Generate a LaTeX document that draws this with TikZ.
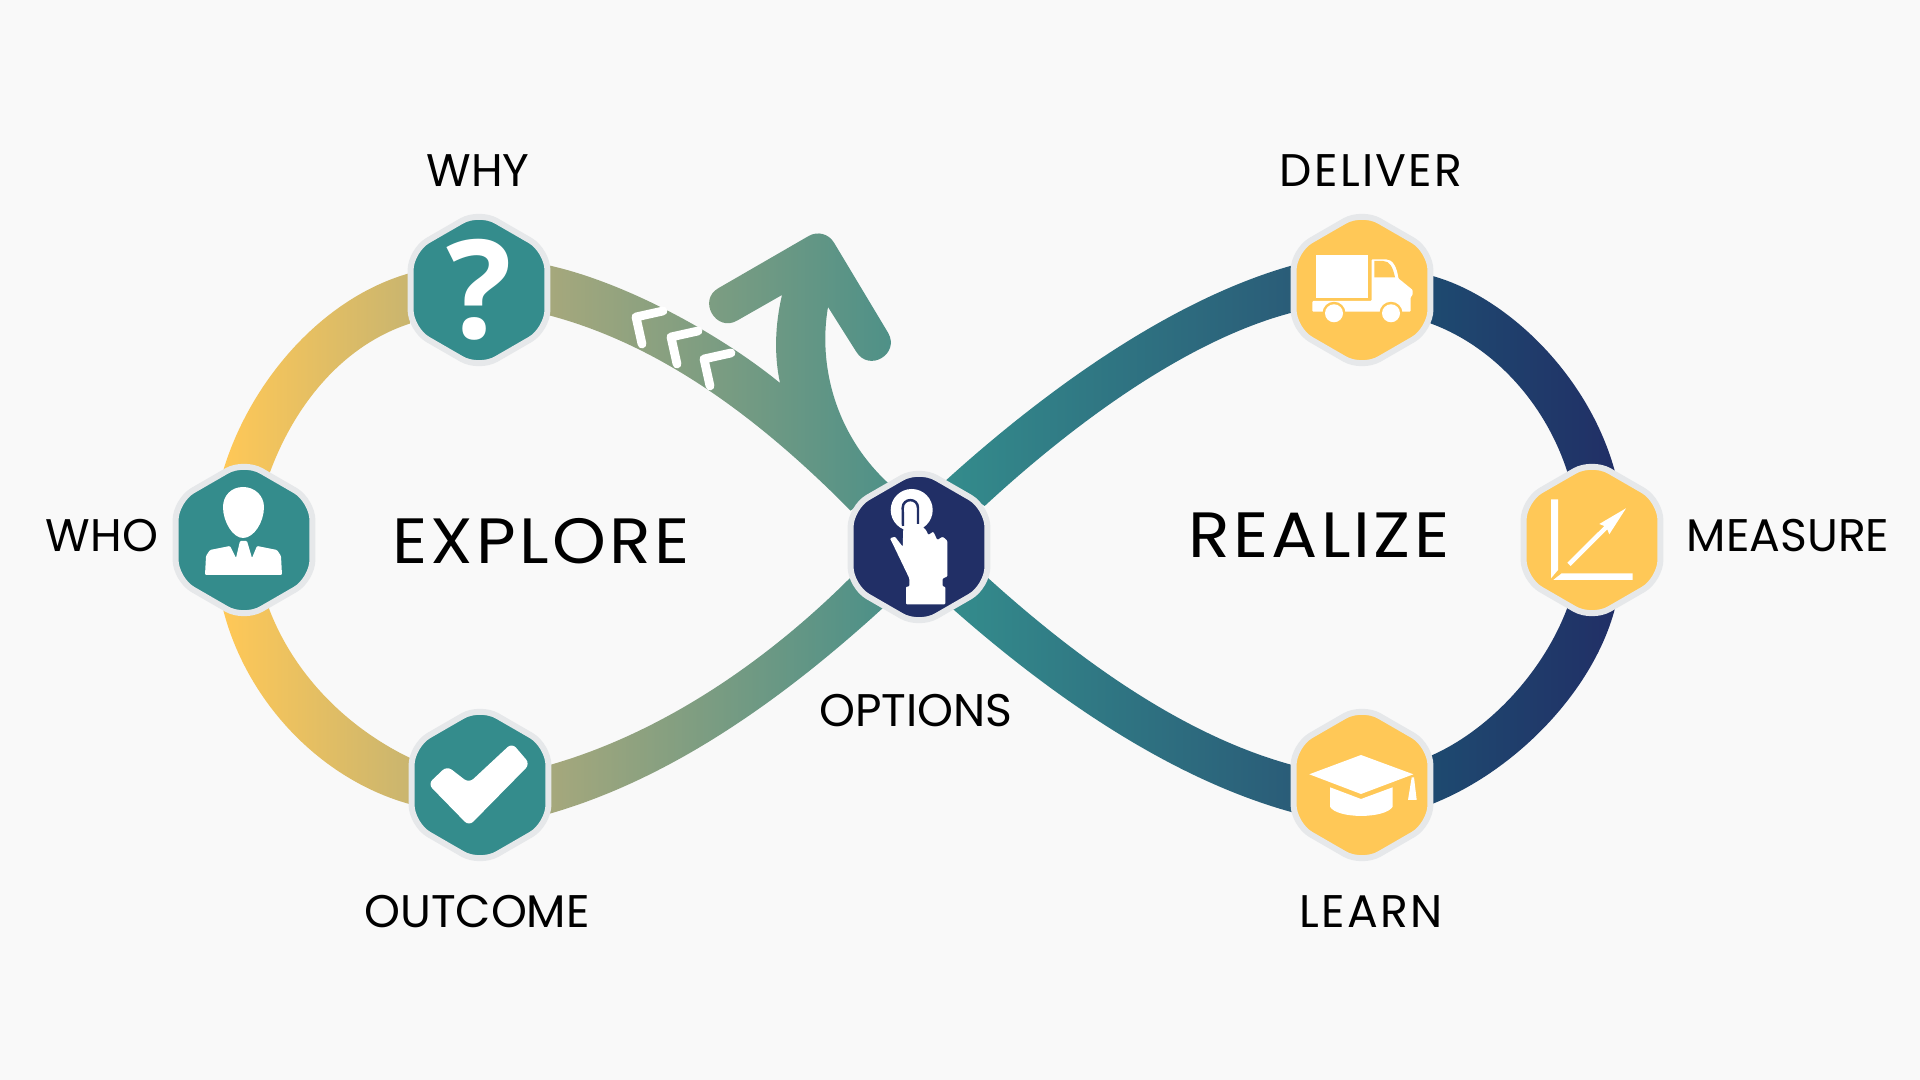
\documentclass[tikz,border=0pt]{standalone}
\usepackage{fontspec}
\setmainfont{Poppins}
\newfontfamily\titlefont[LetterSpace=5,FakeStretch=1.07]{Poppins}
\newfontfamily\widefont[LetterSpace=5]{Poppins}
\newfontfamily\markfont{Open Sans}
\usetikzlibrary{shapes.geometric,backgrounds}

\definecolor{pagegray}{HTML}{F9F9F9}
\definecolor{rimgray}{HTML}{E6E8EA}
\definecolor{sunband}{HTML}{FFC857}
\definecolor{tealband}{HTML}{348C8C}
\definecolor{navyband}{HTML}{212F66}
\definecolor{sandband}{HTML}{C9B56F}
\definecolor{sageband}{HTML}{A6A87C}
\definecolor{seaband}{HTML}{4C9088}
\definecolor{deepband}{HTML}{2A5C78}
\definecolor{duskband}{HTML}{1E4A70}

\tikzset{
  hexnode/.style={draw=rimgray,line width=1.7pt,regular polygon,regular polygon sides=6,
    shape border rotate=30,minimum size=1.58cm,inner sep=0pt,outer sep=0pt,rounded corners=0.2cm},
  tealhex/.style={hexnode,fill=tealband},
  navyhex/.style={hexnode,fill=navyband},
  sunhex/.style={hexnode,fill=sunband},
  looplabel/.style={font=\fontsize{13}{13}\selectfont,text=black,inner sep=0pt},
  widelabel/.style={font=\widefont\fontsize{13}{13}\selectfont,text=black,inner sep=0pt},
  bigtitle/.style={font=\titlefont\fontsize{18.2}{18.2}\selectfont,text=black,inner sep=0pt},
  iconshape/.style={fill=white,rounded corners=0.01cm},
  chevron/.style={draw=white,line width=2.5pt,line cap=round,line join=round}
}

\begin{document}
\begin{tikzpicture}[x=0.01cm,y=-0.01cm]
        \useasboundingbox (0,0) rectangle (1920,1080);
        \node[tealhex] (who) at (244,540){};
        \node[tealhex] (why) at (479,290){};
        \node[tealhex] (outcome) at (480,785){};
        \node[navyhex] (options) at (919,547){};
        \node[sunhex] (deliver) at (1362,290){};
        \node[sunhex] (measure) at (1592,540){};
        \node[sunhex] (learn) at (1362,785){};
        \begin{scope}[on background layer]
        \fill[pagegray] (0,0) rectangle (1920,1080);
        \shade[left color=sunband,right color=sandband]
          (who.108) .. controls (248,385) and (320,298) .. (why.166)
          -- (why.206) .. controls (343,345) and (294,405) .. (who.69) -- cycle;
        \shade[left color=sunband,right color=sandband]
          (who.252) .. controls (245,700) and (320,780) .. (outcome.196)
          -- (outcome.159) .. controls (345,727) and (292,672) .. (who.290) -- cycle;
        \shade[left color=sageband,right color=seaband]
          (why.20) .. controls (625,282) and (720,334) .. (780,383)
          .. controls (774,355) and (775,325) .. (782,295)
          -- (737.3,320.5) .. controls (716,333) and (697,300) .. (718.7,288)
          -- (808.7,236) .. controls (817.5,230.9) and (828.6,233.7) .. (833.9,242.5)
          -- (887.9,332.5) .. controls (900.7,353.7) and (869,373) .. (856.1,351.5)
          -- (828,307) .. controls (818,365) and (835,435) .. (options.115)
          -- (options.152) .. controls (763,422) and (663,345) .. (why.340) -- cycle;
        \shade[left color=sageband,right color=seaband]
          (outcome.16) .. controls (663,733) and (768,660) .. (options.204)
          -- (options.240) .. controls (789,694) and (675,778) .. (outcome.337) -- cycle;
        \shade[left color=tealband,right color=deepband]
          (options.69) .. controls (1043,392) and (1171,299) .. (deliver.160)
          -- (deliver.198) .. controls (1185,340) and (1069,428) .. (options.32) -- cycle;
        \shade[left color=tealband,right color=deepband]
          (options.336) .. controls (1072,654) and (1180,735) .. (learn.164)
          -- (learn.202) .. controls (1170,779) and (1050,695) .. (options.298) -- cycle;
        \shade[left color=duskband,right color=navyband]
          (deliver.12) .. controls (1505,295) and (1590,375) .. (measure.70)
          -- (measure.110) .. controls (1545,400) and (1490,345) .. (deliver.334) -- cycle;
        \shade[left color=duskband,right color=navyband]
          (measure.290) .. controls (1595,690) and (1515,772) .. (learn.344)
          -- (learn.23) .. controls (1490,730) and (1545,670) .. (measure.250) -- cycle;
        \end{scope}
        \foreach \cx/\cy in {636/317,671/337,704/359}
          \draw[chevron] (\cx+27,\cy-6) -- (\cx,\cy) -- (\cx+6,\cy+27);
        % who
        \path[iconshape,rounded corners=0pt] (243,487) .. controls (231,487) and (223,496) .. (223,507)
          .. controls (223,522) and (233,538) .. (243,538) .. controls (254,538) and (264,522) .. (264,507)
          .. controls (264,496) and (255,487) .. (243,487) -- cycle;
        \path[iconshape] (205,575) -- (206,556) -- (210,550) -- (230,546) -- (236,558) -- (240,541) -- (247,541)
          -- (252,558) -- (257,546) -- (277,550) -- (281,556) -- (282,575) -- cycle;
        % why
        \node[font=\markfont\fontsize{39}{39}\selectfont\bfseries,text=white,inner sep=0pt] (whymark) at (479,290) {?};
        % outcome
        \path[iconshape,rounded corners=0.06cm] (428,784) -- (447,766) -- (469,783) -- (512,743) -- (530,764) -- (469,826) -- cycle;
        % options
        \fill[white] (911.7,510) circle (21);
        \path[iconshape] (904,508.3) .. controls (904,499.5) and (916.7,499.5) .. (916.7,508.3)
          -- (917.3,528.3) -- (921.7,526) -- (926,530) -- (928.3,535) -- (933.3,531.7) -- (937.3,540) -- (942.7,536.7)
          -- (947.3,540.7) -- (947.3,576.7) -- (942.7,578.3) -- (942.7,586.7) -- (945.3,586.7) -- (945.3,604.3)
          -- (906,604.3) -- (906,586.7) -- (909.3,586.7) -- (909.3,578.3) -- (891.7,541.7) -- (890,538.3)
          -- (895,536.7) -- (902.7,546.7) -- cycle;
        \draw[navyband,line width=0.7pt] (903,526) -- (902.7,508) .. controls (902.7,497.5) and (918,497.5) .. (918,508) -- (918,524);
        % deliver
        \fill[white] (1315.7,255) rectangle (1368.3,297.7);
        \path[iconshape] (1312.3,301) -- (1371.7,301) -- (1371.7,259.3) -- (1385,259.3)
          .. controls (1393,259.3) and (1397,268) .. (1398.3,278.3) -- (1412.7,290) -- (1412.7,295) -- (1410.7,296.7)
          -- (1410.7,311.7) -- (1312.3,311.7) -- cycle;
        \fill[sunband] (1374.3,261) -- (1383.3,261) .. controls (1390,261) and (1393,268) .. (1395,277.3) -- (1374.3,277.3) -- cycle;
        \foreach \wx in {1334,1391}{
          \fill[sunband] (\wx,313.3) circle (11.5);
          \fill[white] (\wx,313.3) circle (9);
        }
        % measure
        \fill[white] (1551,499.3) -- (1558,499.3) -- (1558,570) -- (1551,578.3) -- cycle;
        \fill[white] (1553.3,580) -- (1561.7,573.3) -- (1632.7,573.3) -- (1632.7,580) -- cycle;
        \fill[white] (1567.3,562.7) -- (1570.7,566) -- (1607.3,529.3) -- (1609.3,534.3) -- (1626,508.3) -- (1599.3,524) -- (1604.3,526) -- cycle;
        % learn
        \fill[white] (1309.3,774.3) -- (1361,755) -- (1413.3,774.3) -- (1361,794) -- cycle;
        \fill[white] (1330,787.3) -- (1361,799) -- (1392.7,787.3) -- (1392.7,806.7) .. controls (1385,819) and (1337,819) .. (1330,806.7) -- cycle;
        \fill[white] (1411.7,777.3) -- (1414,777.3) -- (1416.7,800) -- (1408,800) -- cycle;
        % labels
        \node[looplabel] (whylabel) at (478,171) {WHY};
        \node[looplabel] (wholabel) at (102,536) {WHO};
        \node[looplabel] (outcomelabel) at (477,912) {OUTCOME};
        \node[looplabel] (optionslabel) at (916,711) {OPTIONS};
        \node[widelabel] (deliverlabel) at (1371,171) {DELIVER};
        \node[looplabel] (measurelabel) at (1788,536) {MEASURE};
        \node[widelabel] (learnlabel) at (1371,912) {LEARN};
        \node[bigtitle] (exploretitle) at (541,541) {EXPLORE};
        \node[bigtitle] (realizetitle) at (1319,535) {REALIZE};
    \end{tikzpicture}
\end{document}
